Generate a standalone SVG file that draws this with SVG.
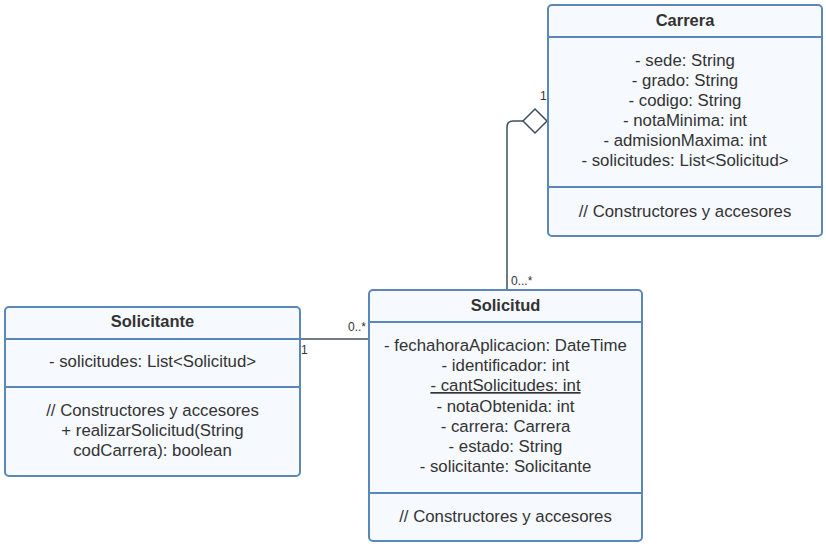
<svg xmlns="http://www.w3.org/2000/svg" width="826" height="547" viewBox="0 0 826 547">
<style>
.box{fill:#f6f9fd;stroke:#5b88b8;stroke-width:2}
.div{stroke:#5b88b8;stroke-width:2}
text{font-family:"Liberation Sans",Arial,sans-serif;fill:#333;font-size:16.8px;text-anchor:middle}
.t{font-weight:bold;font-size:16.5px}
.lbl{font-size:12px;text-anchor:start}
.conn{fill:none;stroke:#3f4f5f;stroke-width:1.5}
</style>
<rect width="826" height="547" fill="#fff"/>
<g id="connectors">
<path class="conn" d="M507,290 V127 Q507,121 513,121 H523"/>
<path class="conn" d="M523,121 L535,109 L547,121 L535,133 Z" fill="#fff"/>
<path class="conn" d="M300,339 H369"/>
<text class="lbl" x="540" y="100">1</text>
<text class="lbl" x="511" y="285">0...*</text>
<text class="lbl" x="348" y="331">0..*</text>
<text class="lbl" x="301" y="354">1</text>
</g>
<g id="Carrera">
<rect class="box" x="548" y="5" width="274" height="231" rx="4"/>
<line class="div" x1="548" y1="37" x2="822" y2="37"/>
<line class="div" x1="548" y1="187" x2="822" y2="187"/>
<text class="t" x="685" y="26">Carrera</text>
<text x="685" y="66">- sede: String</text>
<text x="685" y="86">- grado: String</text>
<text x="685" y="106">- codigo: String</text>
<text x="685" y="126">- notaMinima: int</text>
<text x="685" y="146">- admisionMaxima: int</text>
<text x="685" y="166">- solicitudes: List&lt;Solicitud&gt;</text>
<text x="685" y="217">// Constructores y accesores</text>
</g>
<g id="Solicitud">
<rect class="box" x="369" y="290" width="273" height="251" rx="4"/>
<line class="div" x1="369" y1="322" x2="642" y2="322"/>
<line class="div" x1="369" y1="493" x2="642" y2="493"/>
<text class="t" x="505.5" y="311">Solicitud</text>
<text x="505.5" y="351">- fechahoraAplicacion: DateTime</text>
<text x="505.5" y="371">- identificador: int</text>
<text x="505.5" y="391" text-decoration="underline">- cantSolicitudes: int</text>
<text x="505.5" y="412">- notaObtenida: int</text>
<text x="505.5" y="432">- carrera: Carrera</text>
<text x="505.5" y="452">- estado: String</text>
<text x="505.5" y="472">- solicitante: Solicitante</text>
<text x="505.5" y="522">// Constructores y accesores</text>
</g>
<g id="Solicitante">
<rect class="box" x="5" y="307" width="295" height="169" rx="4"/>
<line class="div" x1="5" y1="339" x2="300" y2="339"/>
<line class="div" x1="5" y1="387" x2="300" y2="387"/>
<text class="t" x="152.5" y="327">Solicitante</text>
<text x="152.5" y="367">- solicitudes: List&lt;Solicitud&gt;</text>
<text x="152.5" y="416">// Constructores y accesores</text>
<text x="152.5" y="436">+ realizarSolicitud(String</text>
<text x="152.5" y="456">codCarrera): boolean</text>
</g>
</svg>
